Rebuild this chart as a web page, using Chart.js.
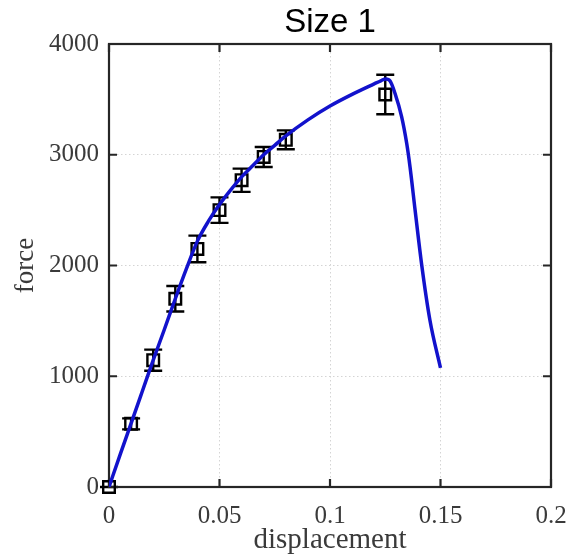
<!DOCTYPE html>
<html>
<head>
<meta charset="utf-8">
<script src="https://cdn.jsdelivr.net/npm/chart.js@4/dist/chart.umd.min.js"></script>
<style>
  html, body { margin: 0; padding: 0; background: #fff; }
  #wrap { width: 568px; height: 559px; }
</style>
</head>
<body>
<div id="wrap"><canvas id="forceChart"></canvas></div>
<script>
// measured points (squares with error bars)
const xPts = [0, 0.01, 0.02, 0.03, 0.04, 0.05, 0.06, 0.07, 0.08, 0.125];
const yPts = [0, 570, 1145, 1700, 2150, 2500, 2770, 2980, 3135, 3544];
const yErr = [0, 50, 95, 115, 120, 115, 105, 90, 85, 178];

// simulated curve
const curveX = [0, 0.005, 0.01, 0.015, 0.02, 0.025, 0.03, 0.035, 0.04, 0.045, 0.05, 0.055, 0.06, 0.065, 0.07,
    0.075, 0.08, 0.09, 0.1, 0.11, 0.12, 0.123, 0.1252, 0.1272, 0.1294, 0.1324, 0.1347, 0.1362, 0.1385, 0.1415,
    0.1452, 0.15];
const curveY = [0, 290, 575, 860, 1145, 1420, 1700, 1970, 2220, 2400, 2550, 2680, 2800, 2900, 3000,
    3085, 3170, 3315, 3440, 3545, 3640, 3668, 3685, 3666, 3555, 3344, 3103, 2892, 2501, 2005,
    1508, 1075];

const xTicks = [0, 0.05, 0.1, 0.15, 0.2];
const xTickLabels = ['0', '0.05', '0.1', '0.15', '0.2'];
const yTicks = [0, 1000, 2000, 3000, 4000];
const yTickLabels = ['0', '1000', '2000', '3000', '4000'];

const axisColor = '#262626';
const labelColor = '#3a3a3a';
const serif = '"Liberation Serif", "Times New Roman", serif';

// error bars, drawn under the curve
const errorBars = {
    id: 'errorBars',
    beforeDatasetsDraw(chart) {
        const ctx = chart.ctx;
        const xs = chart.scales.x, ys = chart.scales.y;
        ctx.save();
        ctx.strokeStyle = '#000';
        ctx.lineWidth = 2.4;
        xPts.forEach((xv, i) => {
            const px = xs.getPixelForValue(xv);
            const top = ys.getPixelForValue(yPts[i] + yErr[i]);
            const bot = ys.getPixelForValue(yPts[i] - yErr[i]);
            ctx.beginPath();
            ctx.moveTo(px, top); ctx.lineTo(px, bot);
            ctx.moveTo(px - 9, top); ctx.lineTo(px + 9, top);
            ctx.moveTo(px - 9, bot); ctx.lineTo(px + 9, bot);
            ctx.stroke();
        });
        ctx.restore();
    }
};

// box frame + inward ticks, matlab style
const boxFrame = {
    id: 'boxFrame',
    beforeDatasetsDraw(chart) {
        const ctx = chart.ctx;
        const a = chart.chartArea;
        const xs = chart.scales.x, ys = chart.scales.y;
        const len = 8;
        ctx.save();
        ctx.strokeStyle = axisColor;
        ctx.lineWidth = 2.2;
        ctx.strokeRect(a.left, a.top, a.right - a.left, a.bottom - a.top);
        ctx.beginPath();
        xTicks.forEach(v => {
            const px = xs.getPixelForValue(v);
            ctx.moveTo(px, a.bottom); ctx.lineTo(px, a.bottom - len);
            ctx.moveTo(px, a.top); ctx.lineTo(px, a.top + len);
        });
        yTicks.forEach(v => {
            const py = ys.getPixelForValue(v);
            ctx.moveTo(a.left, py); ctx.lineTo(a.left + len, py);
            ctx.moveTo(a.right, py); ctx.lineTo(a.right - len, py);
        });
        ctx.stroke();
        ctx.restore();
    }
};

const ctx = document.getElementById('forceChart').getContext('2d');

new Chart(ctx, {
    type: 'scatter',
    data: {
        datasets: [
            {
                label: 'model',
                data: curveX.map((x, i) => ({ x: x, y: curveY[i] })),
                showLine: true,
                borderColor: '#1212cc',
                borderWidth: 3.5,
                pointRadius: 0,
                cubicInterpolationMode: 'monotone',
                order: 0
            },
            {
                label: 'experiment',
                data: xPts.map((x, i) => ({ x: x, y: yPts[i] })),
                showLine: false,
                pointStyle: 'rect',
                pointRadius: 8.2,
                pointBorderWidth: 2.4,
                pointBorderColor: '#000',
                pointBackgroundColor: 'rgba(0,0,0,0)',
                clip: false,
                order: 1
            }
        ]
    },
    options: {
        responsive: true,
        maintainAspectRatio: false,
        animation: false,
        layout: { padding: { left: 0, right: 17, top: 0, bottom: 0 } },
        plugins: {
            legend: { display: false },
            tooltip: { enabled: false },
            title: {
                display: true,
                text: 'Size 1',
                fullSize: false,
                color: '#000',
                font: { family: '"Liberation Sans", Arial, sans-serif', size: 33, weight: 'normal', lineHeight: 1 },
                padding: { top: 6, bottom: 5 }
            }
        },
        scales: {
            x: {
                type: 'linear',
                min: 0,
                max: 0.2,
                afterFit: s => { s.height = 72; s.paddingLeft = 0; s.paddingRight = 0; },
                afterBuildTicks: s => { s.ticks = xTicks.map(v => ({ value: v })); },
                ticks: {
                    padding: 14,
                    color: labelColor,
                    font: { family: serif, size: 25 },
                    maxRotation: 0,
                    callback: (v, i) => xTickLabels[i]
                },
                grid: { color: '#d4d4d4', lineWidth: 1, drawTicks: false },
                border: { display: false, dash: [1.5, 2.5] },
                title: {
                    display: true,
                    text: 'displacement',
                    color: labelColor,
                    font: { family: serif, size: 29 },
                    padding: { top: 0, bottom: 1 }
                }
            },
            y: {
                type: 'linear',
                min: 0,
                max: 4000,
                afterFit: s => { s.width = 109; s.paddingTop = 0; s.paddingBottom = 0; },
                afterBuildTicks: s => { s.ticks = yTicks.map(v => ({ value: v })); },
                ticks: {
                    padding: 10,
                    color: labelColor,
                    font: { family: serif, size: 25 },
                    callback: (v, i) => yTickLabels[i]
                },
                grid: { color: '#d4d4d4', lineWidth: 1, drawTicks: false },
                border: { display: false, dash: [1.5, 2.5] },
                title: {
                    display: true,
                    text: 'force',
                    color: labelColor,
                    font: { family: serif, size: 27 },
                    padding: { top: 10, bottom: 0 }
                }
            }
        }
    },
    plugins: [errorBars, boxFrame]
});
</script>
</body>
</html>
